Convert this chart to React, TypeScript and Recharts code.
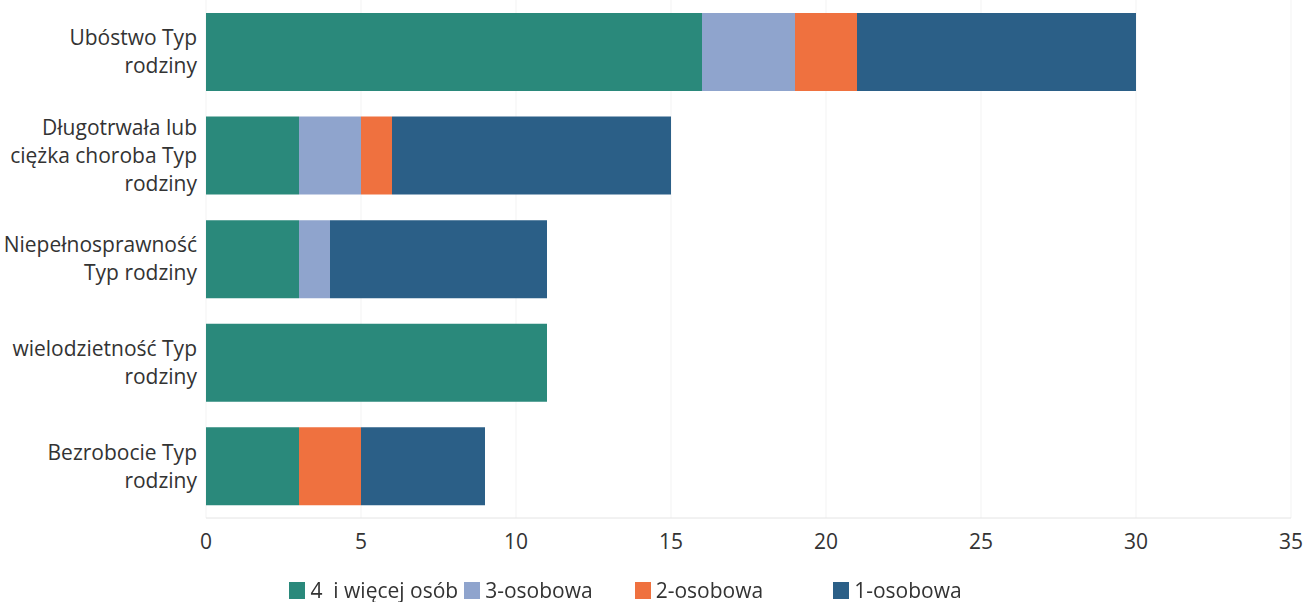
import { Bar, BarChart, CartesianGrid, Legend, XAxis, YAxis } from "recharts";

const categories = [
  "Ubóstwo Typ rodziny",
  "Długotrwała lub ciężka choroba Typ rodziny",
  "Niepełnosprawność Typ rodziny",
  "wielodzietność Typ rodziny",
  "Bezrobocie Typ rodziny",
];
// wrapped label lines per category
const labelLines = [
  ["Ubóstwo Typ", "rodziny"],
  ["Długotrwała lub", "ciężka choroba Typ", "rodziny"],
  ["Niepełnosprawność", "Typ rodziny"],
  ["wielodzietność Typ", "rodziny"],
  ["Bezrobocie Typ", "rodziny"],
];
const fourPlus = [16, 3, 3, 11, 3];
const three = [3, 2, 1, 0, 0];
const two = [2, 1, 0, 0, 2];
const one = [9, 9, 7, 0, 4];
const xTicks = [0, 5, 10, 15, 20, 25, 30, 35];

const SERIES = [
  { key: "four", name: "4  i więcej osób", color: "#2a897b", gap: 6 },
  { key: "three", name: "3-osobowa", color: "#8fa4cd", gap: 42 },
  { key: "two", name: "2-osobowa", color: "#ef713f", gap: 70 },
  { key: "one", name: "1-osobowa", color: "#2b5f87", gap: 0 },
];

const FONT = "'Open Sans', 'Noto Sans', sans-serif";
const TEXT = "#333333";

const rows = categories.map((c, i) => ({
  cat: c,
  four: fourPlus[i],
  three: three[i],
  two: two[i],
  one: one[i],
}));

function CategoryTick(props: any) {
  const { x, y, payload } = props;
  const idx = categories.indexOf(payload.value);
  const lines = labelLines[idx] ?? [payload.value];
  const lh = 28;
  const start = -((lines.length - 1) * lh) / 2;
  return (
    <text x={x} y={y} textAnchor="end" fill={TEXT} fontSize={21} fontFamily={FONT}>
      {lines.map((l, i) => (
        <tspan key={i} x={x} y={y + start + i * lh} dy="0.35em">
          {l}
        </tspan>
      ))}
    </text>
  );
}

function LegendBox() {
  return (
    <div
      style={{
        display: "flex",
        justifyContent: "center",
        paddingTop: 14,
        paddingRight: 40,
        fontFamily: FONT,
        fontSize: 21,
        color: TEXT,
      }}
    >
      {SERIES.map((s) => (
        <div
          key={s.key}
          style={{ display: "flex", alignItems: "center", marginRight: s.gap, whiteSpace: "pre" }}
        >
          <span
            style={{ width: 16, height: 17, background: s.color, marginRight: 5, display: "inline-block" }}
          />
          {s.name}
        </div>
      ))}
    </div>
  );
}

export default function App() {
  return (
    <div style={{ position: "fixed", left: 0, top: 0, background: "#fff" }}>
      <BarChart
        width={1315}
        height={602}
        data={rows}
        layout="vertical"
        barCategoryGap="12.5%"
        margin={{ top: 0, right: 24, bottom: 0, left: 0 }}
      >
        <CartesianGrid horizontal={false} stroke="#f3f3f3" />
        <XAxis
          type="number"
          domain={[0, 35]}
          ticks={xTicks}
          height={44}
          tickLine={false}
          axisLine={{ stroke: "#e4e4e4" }}
          tickMargin={10}
          tick={{ fill: TEXT, fontSize: 21, fontFamily: FONT }}
        />
        <YAxis
          type="category"
          dataKey="cat"
          width={206}
          tickLine={false}
          axisLine={false}
          tickSize={0}
          tickMargin={9}
          tick={<CategoryTick />}
        />
        <Legend verticalAlign="bottom" height={40} content={<LegendBox />} />
        {SERIES.map((s) => (
          <Bar
            key={s.key}
            dataKey={s.key}
            name={s.name}
            stackId="a"
            fill={s.color}
            isAnimationActive={false}
          />
        ))}
      </BarChart>
    </div>
  );
}
